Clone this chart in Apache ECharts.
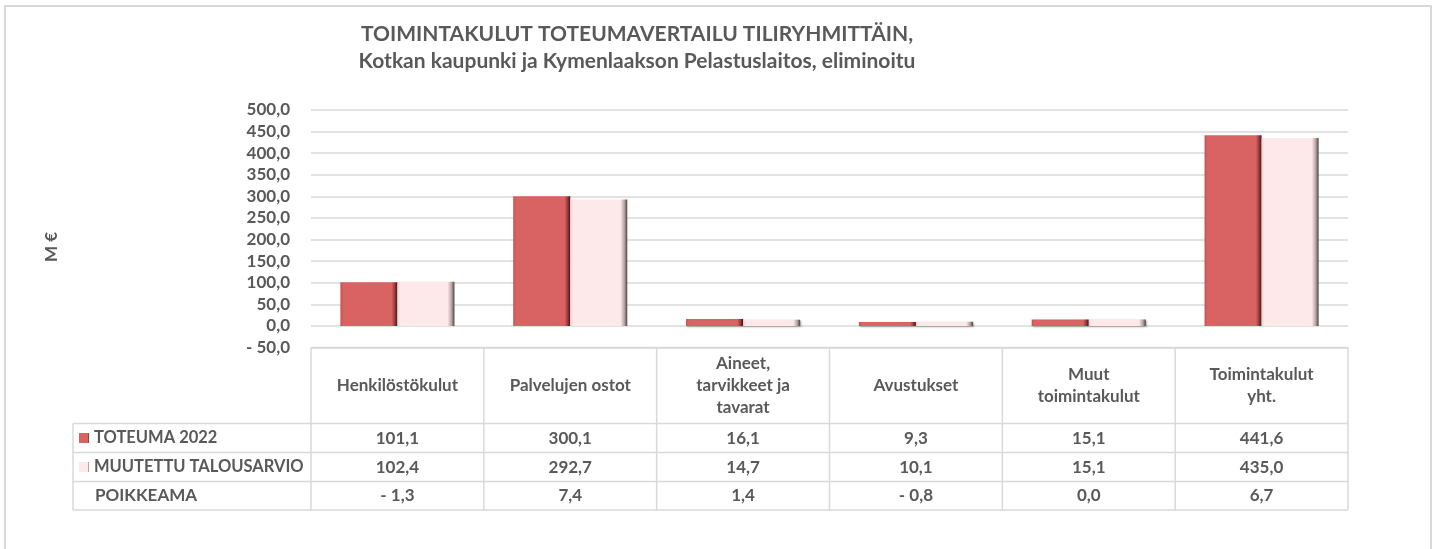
<!DOCTYPE html>
<html>
<head>
<meta charset="utf-8">
<script src="https://cdn.jsdelivr.net/npm/echarts@6/dist/echarts.min.js"></script>
<style>
	html, body { margin: 0; padding: 0; background: #fff; }
	#chart { width: 1437px; height: 549px; }
</style>
</head>
<body>
<div id="chart"></div>
<script>
const categories = ['Henkilöstökulut', 'Palvelujen ostot', 'Aineet,\ntarvikkeet ja\ntavarat', 'Avustukset', 'Muut\ntoimintakulut', 'Toimintakulut\nyht.']
const toteuma = [101.1, 300.1, 16.1, 9.3, 15.1, 441.6]
const talousarvio = [102.4, 292.7, 14.7, 10.1, 15.1, 435.0]
const poikkeama = [-1.3, 7.4, 1.4, -0.8, 0.0, 6.7]
const seriesNames = ['TOTEUMA 2022', 'MUUTETTU TALOUSARVIO', 'POIKKEAMA']

const grey = '#595959'
const lineCol = '#d9d9d9'
const font = 'Lato, "Open Sans", sans-serif'

const fmt = (v) => {
	let s = Math.abs(v).toFixed(1).replace('.', ',')
	return v < 0 ? '- ' + s : s
}

const myChart = echarts.init(document.getElementById('chart'), null, { renderer: 'canvas' })

const grad = (stops) => new echarts.graphic.LinearGradient(0, 0, 1, 0, stops.map((c) => ({ offset: c[0], color: c[1] })))

let option = {
	animation: false,
	title: {
		text: 'TOIMINTAKULUT TOTEUMAVERTAILU TILIRYHMITTÄIN,\nKotkan kaupunki ja Kymenlaakson Pelastuslaitos, eliminoitu',
		left: 637,
		top: 21,
		textAlign: 'center',
		padding: 0,
		textStyle: {
			fontFamily: font,
			fontSize: 21,
			fontWeight: 'bold',
			color: grey,
			lineHeight: 27,
		},
	},
	legend: {
		orient: 'vertical',
		left: 79,
		top: 429,
		padding: 0,
		icon: 'rect',
		itemWidth: 10,
		itemHeight: 10,
		itemGap: 11,
		data: [seriesNames[0], seriesNames[1]],
		textStyle: {
			fontFamily: font,
			fontSize: 16.5,
			fontWeight: 'bold',
			color: grey,
			lineHeight: 18,
		},
	},
	grid: {
		left: 311,
		right: 89,
		top: 110,
		bottom: 201.4,
	},
	xAxis: {
		type: 'category',
		data: categories,
		axisLine: { show: false },
		axisTick: { show: false },
		axisLabel: { show: false },
	},
	yAxis: {
		type: 'value',
		min: -50,
		max: 500,
		interval: 50,
		axisLabel: {
			formatter: fmt,
			margin: 21,
			fontFamily: font,
			fontSize: 17,
			fontWeight: 'bold',
			color: grey,
		},
		splitLine: { lineStyle: { color: lineCol, width: 1.5 } },
	},
	series: [
		{
			name: seriesNames[0],
			type: 'bar',
			data: toteuma,
			barGap: '0%',
			barCategoryGap: '34%',
			itemStyle: {
				color: grad([[0, '#c45252'], [0.05, '#d96262'], [0.9, '#d96262'], [0.96, '#8e3636'], [1, '#3a1414']]),
				shadowColor: 'rgba(0,0,0,0.35)',
				shadowBlur: 2,
				shadowOffsetX: 1,
				shadowOffsetY: 1,
			},
		},
		{
			name: seriesNames[1],
			type: 'bar',
			data: talousarvio,
			barGap: '0%',
			barCategoryGap: '34%',
			itemStyle: {
				color: grad([[0, '#e8cfd1'], [0.05, '#fde9ea'], [0.88, '#fde9ea'], [0.95, '#b5a2a3'], [1, '#4a4242']]),
				shadowColor: 'rgba(0,0,0,0.35)',
				shadowBlur: 2,
				shadowOffsetX: 1,
				shadowOffsetY: 1,
			},
		},
	],
}
myChart.setOption(option)

// data table under the plot
const buildTable = () => {
	let centers = categories.map((c) => myChart.convertToPixel({ xAxisIndex: 0 }, c))
	let bw = centers[1] - centers[0]
	let xb = centers.map((c) => c - bw / 2)
	xb.push(centers[centers.length - 1] + bw / 2)
	let yTop = myChart.convertToPixel({ yAxisIndex: 0 }, -50)
	let xLeft = 73
	let rows = [yTop + 76, yTop + 105, yTop + 134, yTop + 162.5]
	let xEnd = xb[xb.length - 1]
	let els = []
	const line = (x1, y1, x2, y2) => els.push({
		type: 'line',
		shape: { x1, y1, x2, y2 },
		style: { stroke: lineCol, lineWidth: 1.5 },
		silent: true,
	})
	const txt = (x, y, text, align) => els.push({
		type: 'text',
		x, y,
		style: {
			text,
			fill: grey,
			font: 'bold 17px ' + font,
			align: align || 'center',
			verticalAlign: 'middle',
			lineHeight: 22,
		},
		silent: true,
	})

	line(xb[0], yTop, xEnd, yTop)
	rows.forEach((y) => line(xLeft, y, xEnd, y))
	xb.forEach((x) => line(x, yTop, x, rows[3]))
	line(xLeft, rows[0], xLeft, rows[3])

	categories.forEach((c, i) => {
		txt(centers[i], (yTop + rows[0]) / 2, c)
		txt(centers[i], (rows[0] + rows[1]) / 2, fmt(toteuma[i]))
		txt(centers[i], (rows[1] + rows[2]) / 2, fmt(talousarvio[i]))
		txt(centers[i], (rows[2] + rows[3]) / 2, fmt(poikkeama[i]))
	})
	txt(95, (rows[2] + rows[3]) / 2, seriesNames[2], 'left')

	// axis title
	els.push({
		type: 'text',
		x: 52,
		y: 247,
		rotation: Math.PI / 2,
		style: { text: 'M €', fill: grey, font: 'bold 17px ' + font, align: 'center', verticalAlign: 'middle' },
		silent: true,
	})
	// outer frame
	els.push({
		type: 'rect',
		shape: { x: 5, y: 6, width: 1426, height: 600 },
		style: { fill: null, stroke: lineCol, lineWidth: 2 },
		silent: true,
	})
	myChart.setOption({ graphic: els })
}
buildTable()

window.addEventListener('resize', () => {
	myChart.resize()
})
</script>
</body>
</html>
